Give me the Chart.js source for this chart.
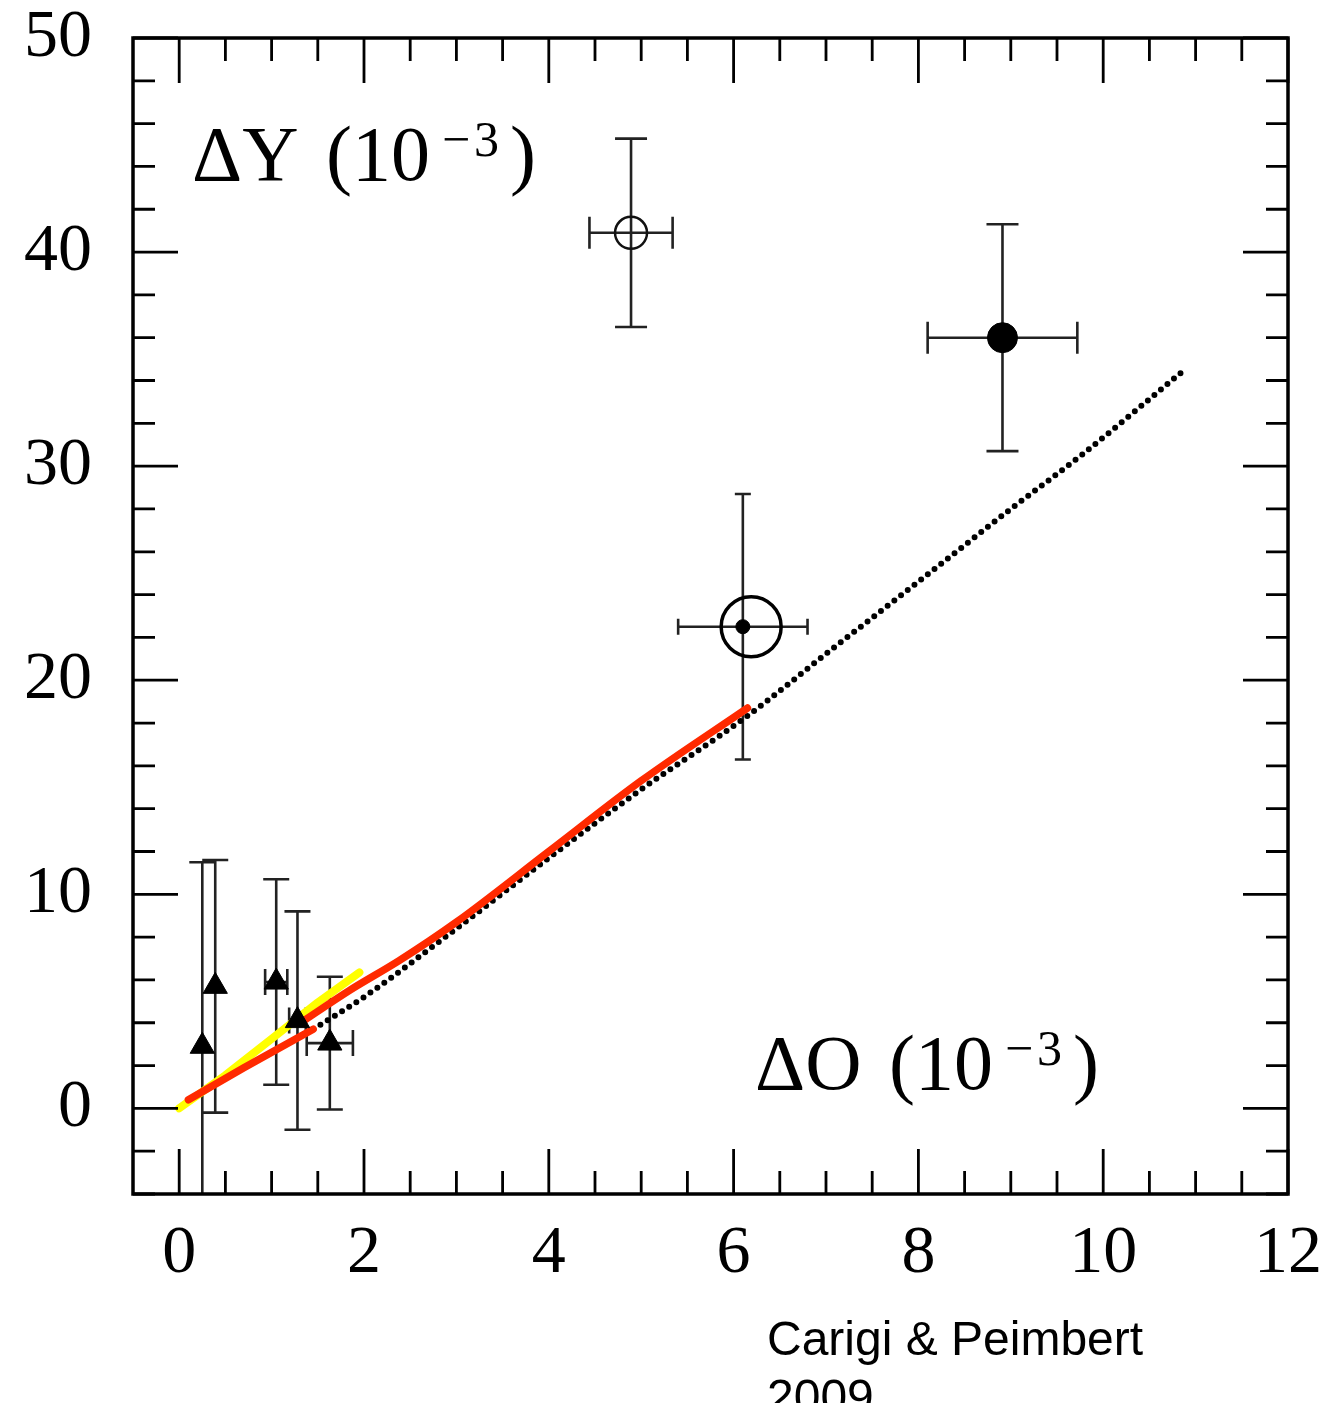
<!DOCTYPE html>
<html>
<head>
<meta charset="utf-8">
<script src="https://cdn.jsdelivr.net/npm/chart.js@4.4.1/dist/chart.umd.min.js"></script>
<style>
  html, body { margin: 0; padding: 0; background: #fff; overflow: hidden; }
  #wrap { position: relative; width: 1336px; height: 1403px; }
  #caption { position: absolute; left: 767px; top: 1310px; font-family: 'Liberation Sans', Arial, sans-serif;
             font-size: 48px; line-height: 58px; color: #000; white-space: nowrap; }
</style>
</head>
<body>
<div id="wrap">
  <canvas id="chart" width="1336" height="1403"></canvas>
  <div id="caption">Carigi &amp; Peimbert<br>2009</div>
</div>
<script>
// tick labels
const X_TICKS = [0, 2, 4, 6, 8, 10, 12];
const Y_TICKS = [0, 10, 20, 30, 40, 50];

// model curves
const yellowX = [0, 0.5, 1.0, 1.5, 1.95];
const yellowY = [0, 1.55, 3.25, 4.95, 6.35];
const redLowX = [0.1, 0.7, 1.45];
const redLowY = [0.4, 1.9, 3.7];
const redX = [1.35, 1.84, 2.38, 3, 4, 5, 6.15];
const redY = [4.1, 5.5, 6.9, 8.7, 12.0, 15.3, 18.7];
const dotX = [1.45, 2, 3, 4, 5, 6.14, 7.05, 8, 9, 9.76, 10.88];
const dotY = [3.7, 5.2, 8.4, 11.7, 14.9, 18.3, 21.4, 24.6, 28.0, 30.5, 34.5];

// observations (value, error)
const triX = [0.25, 0.39, 1.05, 1.28, 1.63];
const triY = [2.9, 5.7, 5.9, 4.1, 3.05];
const triXErr = [0, 0, 0.12, 0.09, 0.25];
const triYErr = [8.6, 5.9, 4.8, 5.1, 3.1];
const openX = [4.89], openY = [40.9], openXErr = [0.45], openYErr = [4.4];
const fillX = [8.91], fillY = [36.0], fillXErr = [0.81], fillYErr = [5.3];
const sunX = [6.1], sunY = [22.5], sunXErr = [0.7], sunYErr = [6.2];
const sunRingX = [6.19], sunRingY = [22.5];

const pts = (xs, ys) => xs.map((x, i) => ({ x, y: ys[i] }));
const SERIF = "'Liberation Serif', 'Times New Roman', serif";

const errorBars = {
  id: 'errorBars',
  beforeDatasetsDraw(chart) {
    const { ctx, chartArea: a, scales: { x, y } } = chart;
    ctx.save();
    ctx.beginPath();
    ctx.rect(a.left, a.top, a.width, a.height);
    ctx.clip();
    ctx.strokeStyle = '#222';
    ctx.lineWidth = 2.6;
    chart.data.datasets.forEach(ds => {
      if (!ds.errY) return;
      const cap = ds.cap;
      ds.data.forEach((p, i) => {
        const px = x.getPixelForValue(p.x), py = y.getPixelForValue(p.y);
        const ey = ds.errY[i], ex = ds.errX[i];
        ctx.beginPath();
        if (ey) {
          const t = y.getPixelForValue(p.y + ey), b = y.getPixelForValue(p.y - ey);
          ctx.moveTo(px, t); ctx.lineTo(px, b);
          ctx.moveTo(px - cap, t); ctx.lineTo(px + cap, t);
          ctx.moveTo(px - cap, b); ctx.lineTo(px + cap, b);
        }
        if (ex) {
          const l = x.getPixelForValue(p.x - ex), r = x.getPixelForValue(p.x + ex);
          ctx.moveTo(l, py); ctx.lineTo(r, py);
          ctx.moveTo(l, py - cap); ctx.lineTo(l, py + cap);
          ctx.moveTo(r, py - cap); ctx.lineTo(r, py + cap);
        }
        ctx.stroke();
      });
    });
    ctx.restore();
  }
};

const frame = {
  id: 'frame',
  afterDraw(chart) {
    const { ctx, chartArea: a, scales: { x, y } } = chart;
    ctx.save();
    ctx.strokeStyle = '#000';
    ctx.lineWidth = 2.8;
    ctx.beginPath();
    for (let v = 0; v <= 12.001; v += 0.5) {
      const px = x.getPixelForValue(v);
      const len = Math.abs(v % 2) < 1e-6 ? 45 : 23;
      ctx.moveTo(px, a.bottom); ctx.lineTo(px, a.bottom - len);
      ctx.moveTo(px, a.top); ctx.lineTo(px, a.top + len);
    }
    for (let v = -4; v <= 50.001; v += 2) {
      const py = y.getPixelForValue(v);
      const len = Math.abs(v % 10) < 1e-6 ? 45 : 22;
      ctx.moveTo(a.left, py); ctx.lineTo(a.left + len, py);
      ctx.moveTo(a.right, py); ctx.lineTo(a.right - len, py);
    }
    ctx.stroke();
    ctx.lineWidth = 3.5;
    ctx.strokeRect(a.left, a.top, a.right - a.left, a.bottom - a.top);

    // axis captions inside the frame
    ctx.fillStyle = '#000';
    ctx.textBaseline = 'alphabetic';
    ctx.textAlign = 'left';
    const big = '78px ' + SERIF, small = '50px ' + SERIF;
    const label = (x0, base, name) => {
      ctx.font = big;
      ctx.fillText(name, x0, base);
      ctx.fillText('(10', x0 + 134, base);
      ctx.font = small;
      ctx.fillText('\u2212', x0 + 250, base - 24);
      ctx.fillText('3', x0 + 282, base - 24);
      ctx.font = big;
      ctx.fillText(')', x0 + 318, base);
    };
    label(192, 180, '\u0394Y');
    label(755, 1089, '\u0394O');
    ctx.restore();
  }
};

new Chart(document.getElementById('chart'), {
  type: 'scatter',
  data: {
    datasets: [
      { data: pts(triX, triY), errX: triXErr, errY: triYErr, cap: 13, pointStyle: 'triangle', pointRadius: 14,
        backgroundColor: '#000', borderColor: '#000', borderWidth: 1, order: 0 },
      { data: pts(openX, openY), errX: openXErr, errY: openYErr, cap: 16, pointRadius: 16,
        backgroundColor: 'rgba(0,0,0,0)', borderColor: '#111', borderWidth: 2.5, order: 0 },
      { data: pts(fillX, fillY), errX: fillXErr, errY: fillYErr, cap: 16, pointRadius: 15,
        backgroundColor: '#000', borderColor: '#000', borderWidth: 1, order: 0 },
      { data: pts(sunX, sunY), errX: sunXErr, errY: sunYErr, cap: 8, pointRadius: 7,
        backgroundColor: '#000', borderColor: '#000', borderWidth: 1, order: 0 },
      { data: pts(sunRingX, sunRingY), pointRadius: 30,
        backgroundColor: 'rgba(0,0,0,0)', borderColor: '#000', borderWidth: 3.5, order: 0 },
      { data: pts(redX, redY), showLine: true, pointRadius: 0, borderColor: '#ff2a00', borderWidth: 7.5,
        cubicInterpolationMode: 'monotone', borderCapStyle: 'round', borderJoinStyle: 'round', order: 1 },
      { data: pts(redLowX, redLowY), showLine: true, pointRadius: 0, borderColor: '#ff2a00', borderWidth: 7.5,
        borderCapStyle: 'round', order: 1 },
      { data: pts(yellowX, yellowY), showLine: true, pointRadius: 0, borderColor: '#ffff00', borderWidth: 8,
        borderCapStyle: 'round', borderJoinStyle: 'round', order: 2 },
      { data: pts(dotX, dotY), showLine: true, pointRadius: 0, borderColor: '#000', borderWidth: 6,
        cubicInterpolationMode: 'monotone', borderDash: [0, 8.5], borderCapStyle: 'round', order: 3 }
    ]
  },
  options: {
    responsive: false,
    animation: false,
    devicePixelRatio: 1,
    layout: { padding: { top: 38, right: 48, left: 0, bottom: 0 } },
    plugins: { legend: { display: false }, tooltip: { enabled: false } },
    scales: {
      x: {
        type: 'linear', min: -0.5, max: 12,
        grid: { display: false, drawTicks: false }, border: { display: false },
        afterBuildTicks: s => { s.ticks = X_TICKS.map(v => ({ value: v })); },
        afterFit: s => { s.height = 209; s.paddingLeft = 0; s.paddingRight = 0; },
        ticks: { autoSkip: false, maxRotation: 0, padding: 26, color: '#000',
                 font: { family: SERIF, size: 68, lineHeight: 1 } }
      },
      y: {
        type: 'linear', min: -4, max: 50,
        grid: { display: false, drawTicks: false }, border: { display: false },
        afterBuildTicks: s => { s.ticks = Y_TICKS.map(v => ({ value: v })); },
        afterFit: s => { s.width = 133; s.paddingTop = 0; s.paddingBottom = 0; },
        ticks: { autoSkip: false, padding: 41, color: '#000',
                 font: { family: SERIF, size: 68, lineHeight: 1 } }
      }
    }
  },
  plugins: [errorBars, frame]
});
</script>
</body>
</html>
